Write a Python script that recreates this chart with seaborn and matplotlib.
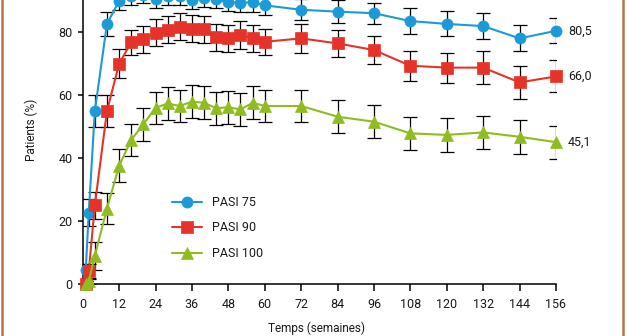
import matplotlib
matplotlib.use("Agg")
import matplotlib.pyplot as plt
from matplotlib.lines import Line2D
import seaborn as sns

# ---------------- data ----------------
weeks = [1, 2, 4, 8, 12, 16, 20, 24, 28, 32, 36, 40, 44, 48, 52, 56, 60,
         72, 84, 96, 108, 120, 132, 144, 156]

pasi75 = [4.4, 22.7, 55.0, 82.7, 90.0, 91.5, 92.0, 90.5, 91.5, 91.5, 90.2, 90.8,
          90.5, 89.7, 89.4, 89.6, 88.6, 87.2, 86.6, 86.1, 83.6, 82.7, 82.0, 78.1, 80.5]
pasi75_err = [2.0, 4.3, 5.0, 3.8, 2.8, 2.8, 2.7, 2.8, 2.7, 2.8, 2.9, 2.8, 2.9,
              3.0, 3.0, 3.0, 3.0, 3.3, 3.6, 3.4, 4.0, 4.0, 4.2, 4.1, 4.0]

pasi90 = [0.0, 4.0, 25.0, 55.0, 70.0, 76.9, 77.8, 79.9, 80.8, 81.8, 81.1, 81.0,
          78.4, 78.1, 79.2, 78.1, 77.0, 78.1, 76.5, 74.4, 69.4, 68.8, 68.8, 64.1, 66.0]
pasi90_err = [1.0, 2.5, 4.4, 5.0, 4.6, 4.0, 4.3, 4.3, 4.3, 4.3, 4.3, 4.3, 4.4,
              4.4, 4.4, 4.4, 4.2, 4.5, 4.3, 4.5, 4.8, 4.8, 5.2, 5.2, 5.1]

pasi100 = [0.0, 1.0, 9.0, 24.0, 37.6, 45.8, 50.8, 56.0, 57.4, 56.6, 58.0, 57.6,
           55.9, 56.2, 55.5, 57.6, 56.6, 56.6, 53.2, 51.6, 47.9, 47.4, 48.2, 46.8, 45.1]
pasi100_err = [1.0, 1.0, 4.5, 5.0, 5.2, 5.0, 5.3, 5.1, 5.2, 5.2, 5.2, 5.2, 5.2,
               5.2, 5.2, 5.2, 5.2, 5.1, 5.3, 5.3, 5.3, 5.3, 5.3, 5.5, 5.2]

labels = ["PASI 75", "PASI 90", "PASI 100"]
end_labels = ["80,5", "66,0", "45,1"]
x_ticks = list(range(0, 157, 12))
y_ticks = [0, 20, 40, 60, 80]
x_label = "Temps (semaines)"
y_label = "Patients (%)"

# ---------------- style ----------------
sns.set_theme(style="ticks")
plt.rcParams["font.family"] = ["Roboto", "DejaVu Sans"]
plt.rcParams["text.color"] = "#1a1a1a"
plt.rcParams["xtick.color"] = "#1a1a1a"
plt.rcParams["ytick.color"] = "#1a1a1a"
plt.rcParams["axes.labelcolor"] = "#1a1a1a"

colors = ["#1b9ad8", "#e63329", "#8fbc1f"]
markers = ["o", "s", "^"]
msizes = [8, 8.5, 9]

W, H = 627, 336
fig = plt.figure(figsize=(W / 100, H / 100), dpi=100)
fig.patch.set_facecolor("white")
ax = fig.add_axes([82.7 / W, 52 / H, 473.3 / W, 314.5 / H])
ax.set_facecolor("white")

series = [
    (pasi75, pasi75_err),
    (pasi90, pasi90_err),
    (pasi100, pasi100_err),
]

for (vals, errs), lab, col, mk, ms in zip(series, labels, colors, markers, msizes):
    ax.errorbar(weeks, vals, yerr=errs, fmt="none", ecolor="black",
                elinewidth=0.9, capsize=5, capthick=0.9, zorder=2)
    sns.lineplot(x=weeks, y=vals, ax=ax, color=col, marker=mk, markersize=ms,
                 markeredgecolor=col, markeredgewidth=0.5, linewidth=1.5,
                 label=lab, zorder=3, clip_on=False)

for (vals, _), txt in zip(series, end_labels):
    ax.annotate(txt, xy=(weeks[-1], vals[-1]), xytext=(8.5, 0),
                textcoords="offset points", va="center", ha="left", fontsize=9)

ax.set_xlim(0, 156)
ax.set_ylim(0, 100)
ax.set_xticks(x_ticks)
ax.set_yticks(y_ticks)

for side in ["top", "right"]:
    ax.spines[side].set_visible(False)
for side in ["left", "bottom"]:
    ax.spines[side].set_color("black")
    ax.spines[side].set_linewidth(1.1)

ax.tick_params(axis="x", length=4.8, width=1.1, pad=5.0, labelsize=9,
               direction="out", color="black")
ax.tick_params(axis="y", length=3.8, width=1.1, pad=3.3, labelsize=9,
               direction="out", color="black")

ax.set_xlabel(x_label, fontsize=8.5)
ax.set_ylabel(y_label, fontsize=8.5)
ax.xaxis.set_label_coords(0.493, -0.118)
ax.yaxis.set_label_coords(-0.095, 0.49)

ax.legend(loc="upper left", bbox_to_anchor=(0.189, 0.28), frameon=False,
          borderpad=0, borderaxespad=0, handlelength=2.4, handletextpad=0.75,
          labelspacing=1.0, fontsize=9)

border = "#b8754c"
fig.add_artist(Line2D([2.3 / W, 2.3 / W], [0, 1], transform=fig.transFigure,
                      color=border, lw=1.8))
fig.add_artist(Line2D([622.8 / W, 622.8 / W], [0, 1], transform=fig.transFigure,
                      color=border, lw=1.8))

fig.savefig("out.png", dpi=100, facecolor="white")
